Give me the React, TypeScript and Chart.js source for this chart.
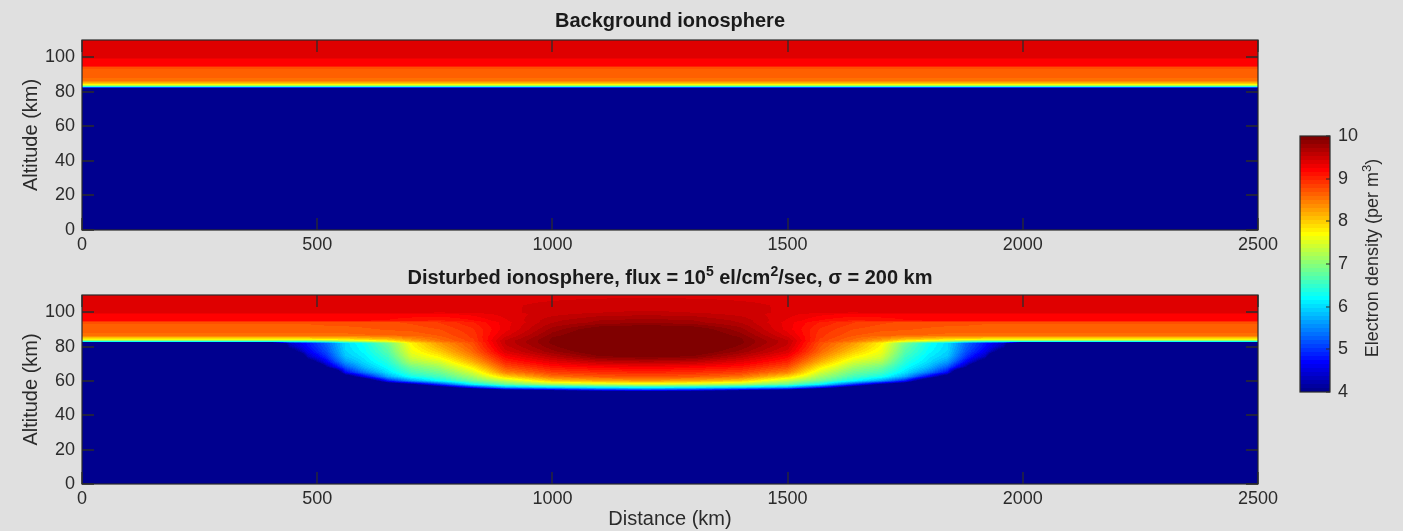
import React, { useEffect, useRef } from "react";
import { Chart, registerables } from "chart.js";

Chart.register(...registerables);

// Sample grid of the density field: columns are ground distance, rows are altitude.
const distanceKm = [0, 400, 440, 480, 520, 560, 600, 650, 700, 760, 830, 900, 1000, 1100, 1200, 1300, 1400, 1500, 1570, 1640, 1700, 1750, 1800, 1840, 1880, 1920, 1960, 2000, 2500];
const altitudeKm = [0, 53, 54.5, 56, 58, 60, 62.5, 65, 68, 71, 74, 77, 80, 82.1, 82.6, 83.4, 84.3, 85.5, 86.5, 90, 94, 95.2, 98.8, 99.8, 104, 110];

// log10 electron density (per m³) of the quiet profile, one value per altitude
const backgroundLogNe = [2, 2, 2, 2, 2, 2, 2, 2, 2, 2, 2, 2, 2, 2, 5.8, 7.0, 7.8, 8.2, 8.55, 8.65, 8.7, 9.2, 9.22, 9.4, 9.4, 9.41];

// log10 electron density (per m³) under precipitation, one row per altitude
const disturbedLogNe = [
  [2, 2, 2, 2, 2, 2, 2, 2, 2, 2, 2, 2, 2, 2, 2, 2, 2, 2, 2, 2, 2, 2, 2, 2, 2, 2, 2, 2, 2],
  [2, 2, 2, 2, 2, 2, 2, 2, 2, 2, 2, 2, 2, 2, 2, 2, 2, 2, 2, 2, 2, 2, 2, 2, 2, 2, 2, 2, 2],
  [2, 2, 2, 2, 2, 2, 2, 2, 2, 2, 2.8, 3.7, 4.2, 4.6, 4.8, 4.6, 4.2, 3.7, 2.8, 2, 2, 2, 2, 2, 2, 2, 2, 2, 2],
  [2, 2, 2, 2, 2, 2, 2, 2, 2.5, 3.5, 4.6, 5.5, 5.8, 6.0, 6.1, 6.0, 5.8, 5.5, 4.6, 3.5, 2.5, 2, 2, 2, 2, 2, 2, 2, 2],
  [2, 2, 2, 2, 2, 2, 2, 3.4, 4.0, 5.0, 6.2, 6.8, 7.2, 7.4, 7.5, 7.4, 7.2, 6.8, 6.2, 5.0, 4.0, 3.4, 2, 2, 2, 2, 2, 2, 2],
  [2, 2, 2, 2, 2, 2, 3.2, 4.8, 5.6, 6.2, 6.8, 7.3, 8.0, 8.2, 8.3, 8.2, 8.0, 7.3, 6.8, 6.2, 5.6, 4.8, 3.2, 2, 2, 2, 2, 2, 2],
  [2, 2, 2, 2, 2, 3.6, 4.6, 5.7, 6.3, 6.6, 7.15, 7.95, 8.55, 8.7, 8.75, 8.7, 8.55, 7.95, 7.15, 6.6, 6.3, 5.7, 4.6, 3.6, 2, 2, 2, 2, 2],
  [2, 2, 2, 2, 2, 4.7, 5.4, 6.05, 6.6, 6.85, 7.45, 8.45, 8.85, 8.95, 9.0, 8.95, 8.85, 8.45, 7.45, 6.85, 6.6, 6.05, 5.4, 4.7, 2, 2, 2, 2, 2],
  [2, 2, 2, 2, 4.1, 5.2, 5.8, 6.25, 6.85, 7.15, 7.8, 8.75, 9.1, 9.2, 9.25, 9.2, 9.1, 8.75, 7.8, 7.15, 6.85, 6.25, 5.8, 5.2, 4.1, 2, 2, 2, 2],
  [2, 2, 2, 3.6, 4.65, 5.6, 6.0, 6.4, 7.2, 7.45, 8.15, 9.0, 9.35, 9.55, 9.6, 9.55, 9.35, 9.0, 8.15, 7.45, 7.2, 6.4, 6.0, 5.6, 4.65, 3.6, 2, 2, 2],
  [2, 2, 2, 4.3, 4.95, 5.85, 6.1, 6.55, 7.45, 7.75, 8.4, 9.2, 9.58, 9.88, 9.93, 9.88, 9.58, 9.2, 8.4, 7.75, 7.45, 6.55, 6.1, 5.85, 4.95, 4.3, 2, 2, 2],
  [2, 2, 3.6, 4.6, 5.15, 5.95, 6.2, 6.7, 7.6, 8.0, 8.6, 9.4, 9.78, 10.05, 10.1, 10.05, 9.78, 9.4, 8.6, 8.0, 7.6, 6.7, 6.2, 5.95, 5.15, 4.6, 3.6, 2, 2],
  [2, 2, 4.2, 4.75, 5.25, 6.0, 6.25, 6.8, 7.7, 8.2, 8.7, 9.5, 9.88, 10.15, 10.2, 10.15, 9.88, 9.5, 8.7, 8.2, 7.7, 6.8, 6.25, 6.0, 5.25, 4.75, 4.2, 2, 2],
  [2, 2, 4.35, 4.8, 5.3, 6.0, 6.3, 6.9, 7.75, 8.3, 8.75, 9.55, 9.93, 10.15, 10.2, 10.15, 9.93, 9.55, 8.75, 8.3, 7.75, 6.9, 6.3, 6.0, 5.3, 4.8, 4.35, 2, 2],
  [5.8, 5.8, 5.9, 6.0, 6.3, 6.8, 7.0, 7.4, 8.0, 8.45, 8.8, 9.55, 9.93, 10.15, 10.2, 10.15, 9.93, 9.55, 8.8, 8.45, 8.0, 7.4, 7.0, 6.8, 6.3, 6.0, 5.9, 5.8, 5.8],
  [7.0, 7.0, 7.0, 7.05, 7.1, 7.4, 7.6, 7.8, 8.2, 8.55, 8.85, 9.55, 9.93, 10.15, 10.2, 10.15, 9.93, 9.55, 8.85, 8.55, 8.2, 7.8, 7.6, 7.4, 7.1, 7.05, 7.0, 7.0, 7.0],
  [7.8, 7.8, 7.8, 7.8, 7.85, 7.9, 8.0, 8.1, 8.35, 8.6, 8.85, 9.5, 9.93, 10.15, 10.2, 10.15, 9.93, 9.5, 8.85, 8.6, 8.35, 8.1, 8.0, 7.9, 7.85, 7.8, 7.8, 7.8, 7.8],
  [8.2, 8.2, 8.2, 8.2, 8.22, 8.25, 8.3, 8.35, 8.5, 8.65, 8.9, 9.45, 9.9, 10.15, 10.2, 10.15, 9.9, 9.45, 8.9, 8.65, 8.5, 8.35, 8.3, 8.25, 8.22, 8.2, 8.2, 8.2, 8.2],
  [8.55, 8.55, 8.55, 8.55, 8.55, 8.56, 8.58, 8.6, 8.62, 8.7, 8.9, 9.4, 9.86, 10.1, 10.2, 10.1, 9.86, 9.4, 8.9, 8.7, 8.62, 8.6, 8.58, 8.56, 8.55, 8.55, 8.55, 8.55, 8.55],
  [8.65, 8.65, 8.65, 8.65, 8.65, 8.66, 8.67, 8.7, 8.72, 8.78, 8.95, 9.3, 9.76, 10.02, 10.08, 10.02, 9.76, 9.3, 8.95, 8.78, 8.72, 8.7, 8.67, 8.66, 8.65, 8.65, 8.65, 8.65, 8.65],
  [8.7, 8.7, 8.7, 8.7, 8.72, 8.72, 8.74, 8.76, 8.8, 8.88, 9.05, 9.3, 9.62, 9.75, 9.8, 9.75, 9.62, 9.3, 9.05, 8.88, 8.8, 8.76, 8.74, 8.72, 8.72, 8.7, 8.7, 8.7, 8.7],
  [9.2, 9.2, 9.2, 9.2, 9.2, 9.2, 9.18, 9.15, 9.1, 9.05, 9.15, 9.33, 9.6, 9.72, 9.76, 9.72, 9.6, 9.33, 9.15, 9.05, 9.1, 9.15, 9.18, 9.2, 9.2, 9.2, 9.2, 9.2, 9.2],
  [9.22, 9.22, 9.22, 9.22, 9.22, 9.22, 9.22, 9.22, 9.22, 9.22, 9.28, 9.38, 9.5, 9.58, 9.6, 9.58, 9.5, 9.38, 9.28, 9.22, 9.22, 9.22, 9.22, 9.22, 9.22, 9.22, 9.22, 9.22, 9.22],
  [9.4, 9.4, 9.4, 9.4, 9.4, 9.4, 9.4, 9.38, 9.36, 9.34, 9.36, 9.42, 9.47, 9.53, 9.55, 9.53, 9.47, 9.42, 9.36, 9.34, 9.36, 9.38, 9.4, 9.4, 9.4, 9.4, 9.4, 9.4, 9.4],
  [9.4, 9.4, 9.4, 9.4, 9.4, 9.4, 9.4, 9.4, 9.4, 9.4, 9.4, 9.43, 9.45, 9.47, 9.48, 9.47, 9.45, 9.43, 9.4, 9.4, 9.4, 9.4, 9.4, 9.4, 9.4, 9.4, 9.4, 9.4, 9.4],
  [9.41, 9.41, 9.41, 9.41, 9.41, 9.41, 9.41, 9.41, 9.41, 9.41, 9.41, 9.42, 9.42, 9.42, 9.42, 9.42, 9.42, 9.42, 9.41, 9.41, 9.41, 9.41, 9.41, 9.41, 9.41, 9.41, 9.41, 9.41, 9.41],
];

const distanceTicks = [0, 500, 1000, 1500, 2000, 2500];
const altitudeTicks = [0, 20, 40, 60, 80, 100];
const densityTicks = [4, 5, 6, 7, 8, 9, 10];
const distanceLimits = [0, 2500];
const altitudeLimits = [0, 110];
const densityLimits = [4, 10];

type Seg = { text: string; sup?: boolean };

const backgroundTitle: Seg[] = [{ text: "Background ionosphere" }];
const disturbedTitle: Seg[] = [
  { text: "Disturbed ionosphere, flux = 10" },
  { text: "5", sup: true },
  { text: " el/cm" },
  { text: "2", sup: true },
  { text: "/sec, σ = 200 km" },
];
const colorbarLabel: Seg[] = [
  { text: "Electron density (per m" },
  { text: "3", sup: true },
  { text: ")" },
];

const FONT = '"Liberation Sans", Arial, Helvetica, sans-serif';
const INK = "#2b2b2b";
const PAGE_BG = "#e0e0e0";
const LEVELS = 64;

// MATLAB-style 64-step jet colour map (index is 1-based)
function jetColor(i: number): [number, number, number] {
  const r = i <= 24 ? 0 : i <= 40 ? (i - 24) / 16 : i <= 56 ? 1 : (72 - i) / 16;
  const g = i <= 8 ? 0 : i <= 24 ? (i - 8) / 16 : i <= 40 ? 1 : i <= 56 ? (56 - i) / 16 : 0;
  const b = i <= 8 ? (8 + i) / 16 : i <= 24 ? 1 : i <= 40 ? (40 - i) / 16 : 0;
  return [Math.round(r * 255), Math.round(g * 255), Math.round(b * 255)];
}
const JET = Array.from({ length: LEVELS }, (_, k) => jetColor(k + 1));

function levelOf(v: number): number {
  const t = (v - densityLimits[0]) / (densityLimits[1] - densityLimits[0]);
  return Math.min(LEVELS - 1, Math.max(0, Math.floor(t * LEVELS)));
}

function bracket(arr: number[], v: number): [number, number] {
  const n = arr.length;
  if (v <= arr[0]) return [0, 0];
  if (v >= arr[n - 1]) return [n - 2, 1];
  let i = 0;
  while (arr[i + 1] < v) i++;
  return [i, (v - arr[i]) / (arr[i + 1] - arr[i])];
}

function sampleBackground(_d: number, a: number): number {
  const [i, f] = bracket(altitudeKm, a);
  return backgroundLogNe[i] * (1 - f) + backgroundLogNe[i + 1] * f;
}

function sampleDisturbed(d: number, a: number): number {
  const [j, fx] = bracket(distanceKm, d);
  const [i, fy] = bracket(altitudeKm, a);
  const r0 = disturbedLogNe[i];
  const r1 = disturbedLogNe[i + 1];
  const lo = r0[j] * (1 - fx) + r0[j + 1] * fx;
  const hi = r1[j] * (1 - fx) + r1[j + 1] * fx;
  return lo * (1 - fy) + hi * fy;
}

function drawRichText(ctx: CanvasRenderingContext2D, segs: Seg[], cx: number, baseline: number, size: number, weight: string) {
  const main = `${weight} ${size}px ${FONT}`;
  const small = `${weight} ${Math.round(size * 0.7)}px ${FONT}`;
  let total = 0;
  const widths = segs.map((s) => {
    ctx.font = s.sup ? small : main;
    const w = ctx.measureText(s.text).width;
    total += w;
    return w;
  });
  let x = cx - total / 2;
  ctx.textAlign = "left";
  ctx.textBaseline = "alphabetic";
  segs.forEach((s, k) => {
    ctx.font = s.sup ? small : main;
    ctx.fillText(s.text, x, s.sup ? baseline - size * 0.4 : baseline);
    x += widths[k];
  });
}

// Paints the density field pixel by pixel, positioned through the chart's scales.
function heatmapPlugin(sample: (d: number, a: number) => number) {
  return {
    id: "heatmap",
    beforeDatasetsDraw(chart: any) {
      const { ctx, chartArea: ca, scales } = chart;
      const x0 = Math.round(ca.left);
      const y0 = Math.round(ca.top);
      const w = Math.round(ca.right) - x0;
      const h = Math.round(ca.bottom) - y0;
      const img = ctx.createImageData(w, h);
      const ds: number[] = [];
      for (let px = 0; px < w; px++) ds.push(scales.x.getValueForPixel(x0 + px + 0.5));
      for (let py = 0; py < h; py++) {
        const a = scales.y.getValueForPixel(y0 + py + 0.5);
        for (let px = 0; px < w; px++) {
          const c = JET[levelOf(sample(ds[px], a))];
          const o = (py * w + px) * 4;
          img.data[o] = c[0];
          img.data[o + 1] = c[1];
          img.data[o + 2] = c[2];
          img.data[o + 3] = 255;
        }
      }
      ctx.putImageData(img, x0, y0);
    },
  };
}

// Box, inward tick marks on all four sides, and the panel title.
function axesFramePlugin(title: Seg[], titleBaseline: number) {
  return {
    id: "axesFrame",
    afterDraw(chart: any) {
      const { ctx, chartArea: ca, scales } = chart;
      const L = 12;
      ctx.save();
      ctx.strokeStyle = INK;
      ctx.lineWidth = 1.3;
      ctx.beginPath();
      for (const v of distanceTicks) {
        const x = Math.round(scales.x.getPixelForValue(v));
        ctx.moveTo(x, ca.bottom);
        ctx.lineTo(x, ca.bottom - L);
        ctx.moveTo(x, ca.top);
        ctx.lineTo(x, ca.top + L);
      }
      for (const v of altitudeTicks) {
        const y = Math.round(scales.y.getPixelForValue(v));
        ctx.moveTo(ca.left, y);
        ctx.lineTo(ca.left + L, y);
        ctx.moveTo(ca.right, y);
        ctx.lineTo(ca.right - L, y);
      }
      ctx.stroke();
      ctx.lineWidth = 1.2;
      ctx.strokeRect(ca.left, ca.top, ca.right - ca.left, ca.bottom - ca.top);
      ctx.fillStyle = "#1a1a1a";
      drawRichText(ctx, title, (ca.left + ca.right) / 2, titleBaseline, 20, "bold");
      ctx.restore();
    },
  };
}

const colorbarPlugin = {
  id: "colorbar",
  beforeDatasetsDraw(chart: any) {
    const { ctx, chartArea: ca, scales } = chart;
    const step = (densityLimits[1] - densityLimits[0]) / LEVELS;
    for (let k = 0; k < LEVELS; k++) {
      const yTop = scales.y.getPixelForValue(densityLimits[0] + (k + 1) * step);
      const yBot = scales.y.getPixelForValue(densityLimits[0] + k * step);
      const c = JET[k];
      ctx.fillStyle = `rgb(${c[0]},${c[1]},${c[2]})`;
      ctx.fillRect(ca.left, Math.floor(yTop), ca.right - ca.left, Math.ceil(yBot) - Math.floor(yTop));
    }
  },
  afterDraw(chart: any) {
    const { ctx, chartArea: ca, scales } = chart;
    ctx.save();
    ctx.strokeStyle = INK;
    ctx.lineWidth = 1.2;
    ctx.beginPath();
    for (const v of densityTicks) {
      const y = Math.round(scales.y.getPixelForValue(v));
      ctx.moveTo(ca.right, y);
      ctx.lineTo(ca.right - 4, y);
    }
    ctx.stroke();
    ctx.strokeRect(ca.left, ca.top, ca.right - ca.left, ca.bottom - ca.top);
    ctx.fillStyle = INK;
    ctx.translate(90, (ca.top + ca.bottom) / 2 - 6);
    ctx.rotate(-Math.PI / 2);
    drawRichText(ctx, colorbarLabel, 0, 0, 18, "normal");
    ctx.restore();
  },
};

const tickFont = { family: FONT, size: 18 };
const labelFont = { family: FONT, size: 20, lineHeight: 1.2 };

function panelConfig(
  sample: (d: number, a: number) => number,
  title: Seg[],
  titleBaseline: number,
  padTop: number,
  xAxisHeight: number,
  showDistanceTitle: boolean
) {
  return {
    type: "scatter",
    data: { datasets: [] },
    options: {
      responsive: false,
      animation: false,
      devicePixelRatio: 1,
      events: [],
      layout: { padding: { top: padTop, right: 30, bottom: 0, left: 0 } },
      plugins: { legend: { display: false }, tooltip: { enabled: false }, title: { display: false } },
      scales: {
        x: {
          type: "linear",
          min: distanceLimits[0],
          max: distanceLimits[1],
          afterBuildTicks: (s: any) => {
            s.ticks = distanceTicks.map((value) => ({ value }));
          },
          afterFit: (s: any) => {
            s.height = xAxisHeight;
          },
          grid: { display: false, drawTicks: false },
          border: { display: false },
          ticks: { color: INK, font: tickFont, padding: 4, maxRotation: 0, autoSkip: false, callback: (v: any) => String(v) },
          title: { display: showDistanceTitle, text: "Distance (km)", color: INK, font: labelFont, padding: { top: 0, bottom: 0 } },
        },
        y: {
          type: "linear",
          min: altitudeLimits[0],
          max: altitudeLimits[1],
          afterBuildTicks: (s: any) => {
            s.ticks = altitudeTicks.map((value) => ({ value }));
          },
          afterFit: (s: any) => {
            s.width = 82;
          },
          grid: { display: false, drawTicks: false },
          border: { display: false },
          ticks: { color: INK, font: tickFont, padding: 7, autoSkip: false, callback: (v: any) => String(v) },
          title: { display: true, text: "Altitude (km)", color: INK, font: labelFont, padding: { top: 19, bottom: 0 } },
        },
      },
    },
    plugins: [heatmapPlugin(sample), axesFramePlugin(title, titleBaseline)],
  };
}

function colorbarConfig() {
  return {
    type: "scatter",
    data: { datasets: [] },
    options: {
      responsive: false,
      animation: false,
      devicePixelRatio: 1,
      events: [],
      layout: { padding: { top: 136, right: 0, bottom: 139, left: 12 } },
      plugins: { legend: { display: false }, tooltip: { enabled: false }, title: { display: false } },
      scales: {
        x: { type: "linear", display: false, min: 0, max: 1 },
        y: {
          type: "linear",
          position: "right",
          min: densityLimits[0],
          max: densityLimits[1],
          afterBuildTicks: (s: any) => {
            s.ticks = densityTicks.map((value) => ({ value }));
          },
          afterFit: (s: any) => {
            s.width = 73;
          },
          grid: { display: false, drawTicks: false },
          border: { display: false },
          ticks: { color: INK, font: tickFont, padding: 8, autoSkip: false, callback: (v: any) => String(v) },
        },
      },
    },
    plugins: [colorbarPlugin],
  };
}

function ChartCanvas(props: { left: number; top: number; width: number; height: number; make: () => any }) {
  const ref = useRef<HTMLCanvasElement>(null);
  useEffect(() => {
    const chart = new Chart(ref.current as HTMLCanvasElement, props.make());
    return () => chart.destroy();
  }, []);
  return (
    <canvas
      ref={ref}
      width={props.width}
      height={props.height}
      style={{ position: "absolute", left: props.left, top: props.top, width: props.width, height: props.height }}
    />
  );
}

export default function App() {
  return (
    <div style={{ position: "fixed", left: 0, top: 0, width: 1403, height: 531, background: PAGE_BG, overflow: "hidden" }}>
      <ChartCanvas left={0} top={0} width={1288} height={260} make={() => panelConfig(sampleBackground, backgroundTitle, 27, 40, 30, false)} />
      <ChartCanvas left={0} top={260} width={1288} height={271} make={() => panelConfig(sampleDisturbed, disturbedTitle, 24, 35, 47, true)} />
      <ChartCanvas left={1288} top={0} width={115} height={531} make={colorbarConfig} />
    </div>
  );
}
